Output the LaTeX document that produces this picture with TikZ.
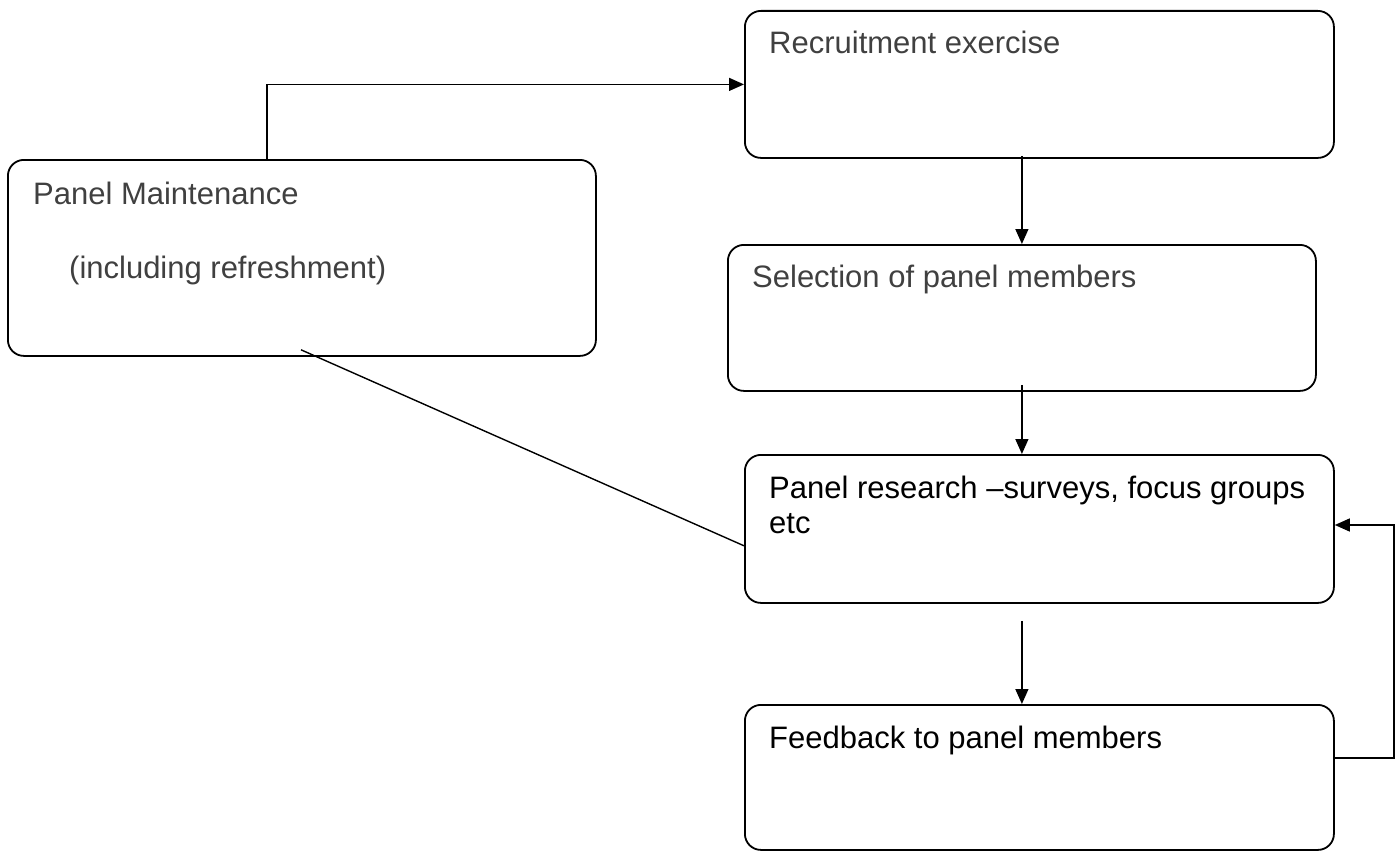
\documentclass[tikz,border=0pt]{standalone}
\usepackage{fontspec}
\setmainfont{Liberation Sans}
\usetikzlibrary{arrows.meta,calc}
\definecolor{txtgrey}{HTML}{404040}
\begin{document}
\begin{tikzpicture}[x=1pt,y=-1pt,
  box/.style={draw=black,line width=1.8pt,rounded corners=16pt,inner sep=0pt,anchor=north west},
  txt/.style={inner sep=0pt,anchor=base west,font=\fontsize{31}{35}\selectfont,align=left},
  greytxt/.style={txt,text=txtgrey},
  conn/.style={draw=black,line width=1.4pt},
  arr/.style={conn,-{Triangle[length=15pt,width=13pt]}}]
\useasboundingbox (0,0) rectangle (1400,851);
% boxes
\node[box,minimum width=589pt,minimum height=147pt] (Rec) at (744,10) {};
\node[box,minimum width=588pt,minimum height=196pt] (PM) at (7,159) {};
\node[box,minimum width=588pt,minimum height=146pt] (Sel) at (727,244) {};
\node[box,minimum width=589pt,minimum height=148pt] (Res) at (744,454) {};
\node[box,minimum width=589pt,minimum height=145pt] (Fb) at (744,704) {};
% texts
\node[greytxt] (RecT) at (769,54) {Recruitment exercise};
\node[greytxt] (PMT) at (33,204) {Panel Maintenance};
\node[greytxt] (PMT2) at (69,278) {(including refreshment)};
\node[greytxt] (SelT) at (752,287) {Selection of panel members};
\node[txt] (ResT) at (769,533) {Panel research –surveys, focus groups\\etc};
\node[txt] (FbT) at (769,748) {Feedback to panel members};
% connectors
\coordinate (pmup) at ([xshift=260pt]PM.north west);
\draw[arr] (pmup) |- (Rec.west);
\draw[arr] ([yshift=3pt]Rec.south -| Sel.north) -- (Sel.north);
\draw[arr] ([yshift=7pt]Sel.south) -- (Res.north -| Sel.south);
\draw[arr] ([yshift=-17pt]Res.south -| Sel.south) -- (Fb.north -| Sel.south);
\coordinate (pmdiag) at ([xshift=294pt,yshift=7pt]PM.south west);
\coordinate (resdiag) at ([yshift=58pt]Res.south west);
\draw[conn] (pmdiag) -- (resdiag);
\coordinate (fbout) at ([yshift=-54pt]Fb.north east);
\coordinate (resin) at ([yshift=-71pt]Res.north east);
\draw[arr] (fbout) -- ++(59,0) |- (resin);
\end{tikzpicture}
\end{document}
